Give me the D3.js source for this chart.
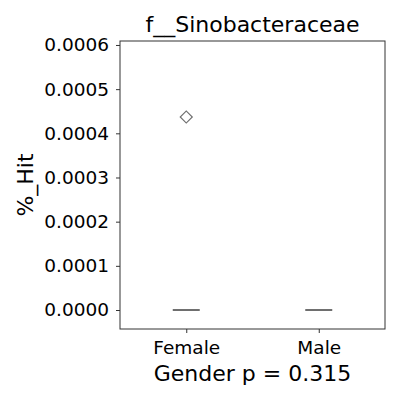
<!doctype html>
<html lang="en">
  <head>
    <meta charset="utf-8">
    <title>f__Sinobacteraceae</title>
    <style>
      body { margin: 0; background: #fff; }
      text { font-family: "DejaVu Sans", sans-serif; fill: #000; }
    </style>
    <script src="https://d3js.org/d3.v7.min.js"></script>
  </head>
  <body>
    <svg width="400" height="400"></svg>
    <script>
    // box stats per group (all values zero except one outlier)
    var groups = ["Female", "Male"];
    var medians = [0, 0];
    var q1s = [0, 0];
    var q3s = [0, 0];
    var outliers = [[0.000437], []];
    var yTicks = [0, 0.0001, 0.0002, 0.0003, 0.0004, 0.0005, 0.0006];

    var svg = d3.select("svg"),
        mLeft = 120, mRight = 385, mTop = 41, mBottom = 329;

    var x = d3.scalePoint().domain(groups).range([mLeft, mRight]).padding(0.5);
    var y = d3.scaleLinear().domain([-0.0000430, 0.000609]).range([mBottom, mTop]);
    var boxW = 27;

    // y axis
    var yAxis = svg.append("g")
        .attr("transform", "translate(" + mLeft + ",0)")
        .call(d3.axisLeft(y).tickValues(yTicks).tickFormat(d3.format(".4f")).tickSize(4).tickPadding(7));
    yAxis.select(".domain").remove();
    yAxis.selectAll("line").attr("stroke", "#333");
    yAxis.selectAll("text").style("font-size", "18.5px").style("font-family", "DejaVu Sans, sans-serif");

    // x axis
    var xAxis = svg.append("g")
        .attr("transform", "translate(0," + mBottom + ")")
        .call(d3.axisBottom(x).tickSize(4).tickPadding(8));
    xAxis.select(".domain").remove();
    xAxis.selectAll("line").attr("stroke", "#333");
    xAxis.selectAll("text").style("font-size", "18.5px").style("font-family", "DejaVu Sans, sans-serif");

    // boxes (collapsed to lines at zero)
    groups.forEach(function(g, i) {
      var cx = x(g);
      svg.append("rect")
          .attr("x", cx - boxW / 2)
          .attr("width", boxW)
          .attr("y", y(q3s[i]))
          .attr("height", Math.max(0, y(q1s[i]) - y(q3s[i])))
          .attr("fill", "none")
          .attr("stroke", "#3f3f3f");
      svg.append("line")
          .attr("x1", cx - boxW / 2).attr("x2", cx + boxW / 2)
          .attr("y1", y(medians[i])).attr("y2", y(medians[i]))
          .attr("stroke", "#3f3f3f").attr("stroke-width", 1.5);
      outliers[i].forEach(function(v) {
        svg.append("path")
            .attr("d", d3.symbol(d3.symbolSquare, 72))
            .attr("transform", "translate(" + cx + "," + y(v) + ") rotate(45)")
            .attr("fill", "none")
            .attr("stroke", "#6f6f6f")
            .attr("stroke-width", 1.2);
      });
    });

    // frame
    svg.append("rect")
        .attr("x", mLeft).attr("y", mTop)
        .attr("width", mRight - mLeft).attr("height", mBottom - mTop)
        .attr("fill", "none").attr("stroke", "#333").attr("stroke-width", 1);

    svg.append("text")
        .attr("x", (mLeft + mRight) / 2).attr("y", 32)
        .attr("text-anchor", "middle")
        .style("font-size", "22px")
        .text("f__Sinobacteraceae");

    svg.append("text")
        .attr("x", (mLeft + mRight) / 2).attr("y", 381)
        .attr("text-anchor", "middle")
        .style("font-size", "22px")
        .text("Gender p = 0.315");

    svg.append("text")
        .attr("transform", "translate(33," + ((mTop + mBottom) / 2) + ") rotate(-90)")
        .attr("text-anchor", "middle")
        .style("font-size", "22px")
        .text("%_Hit");
    </script>
  </body>
</html>
